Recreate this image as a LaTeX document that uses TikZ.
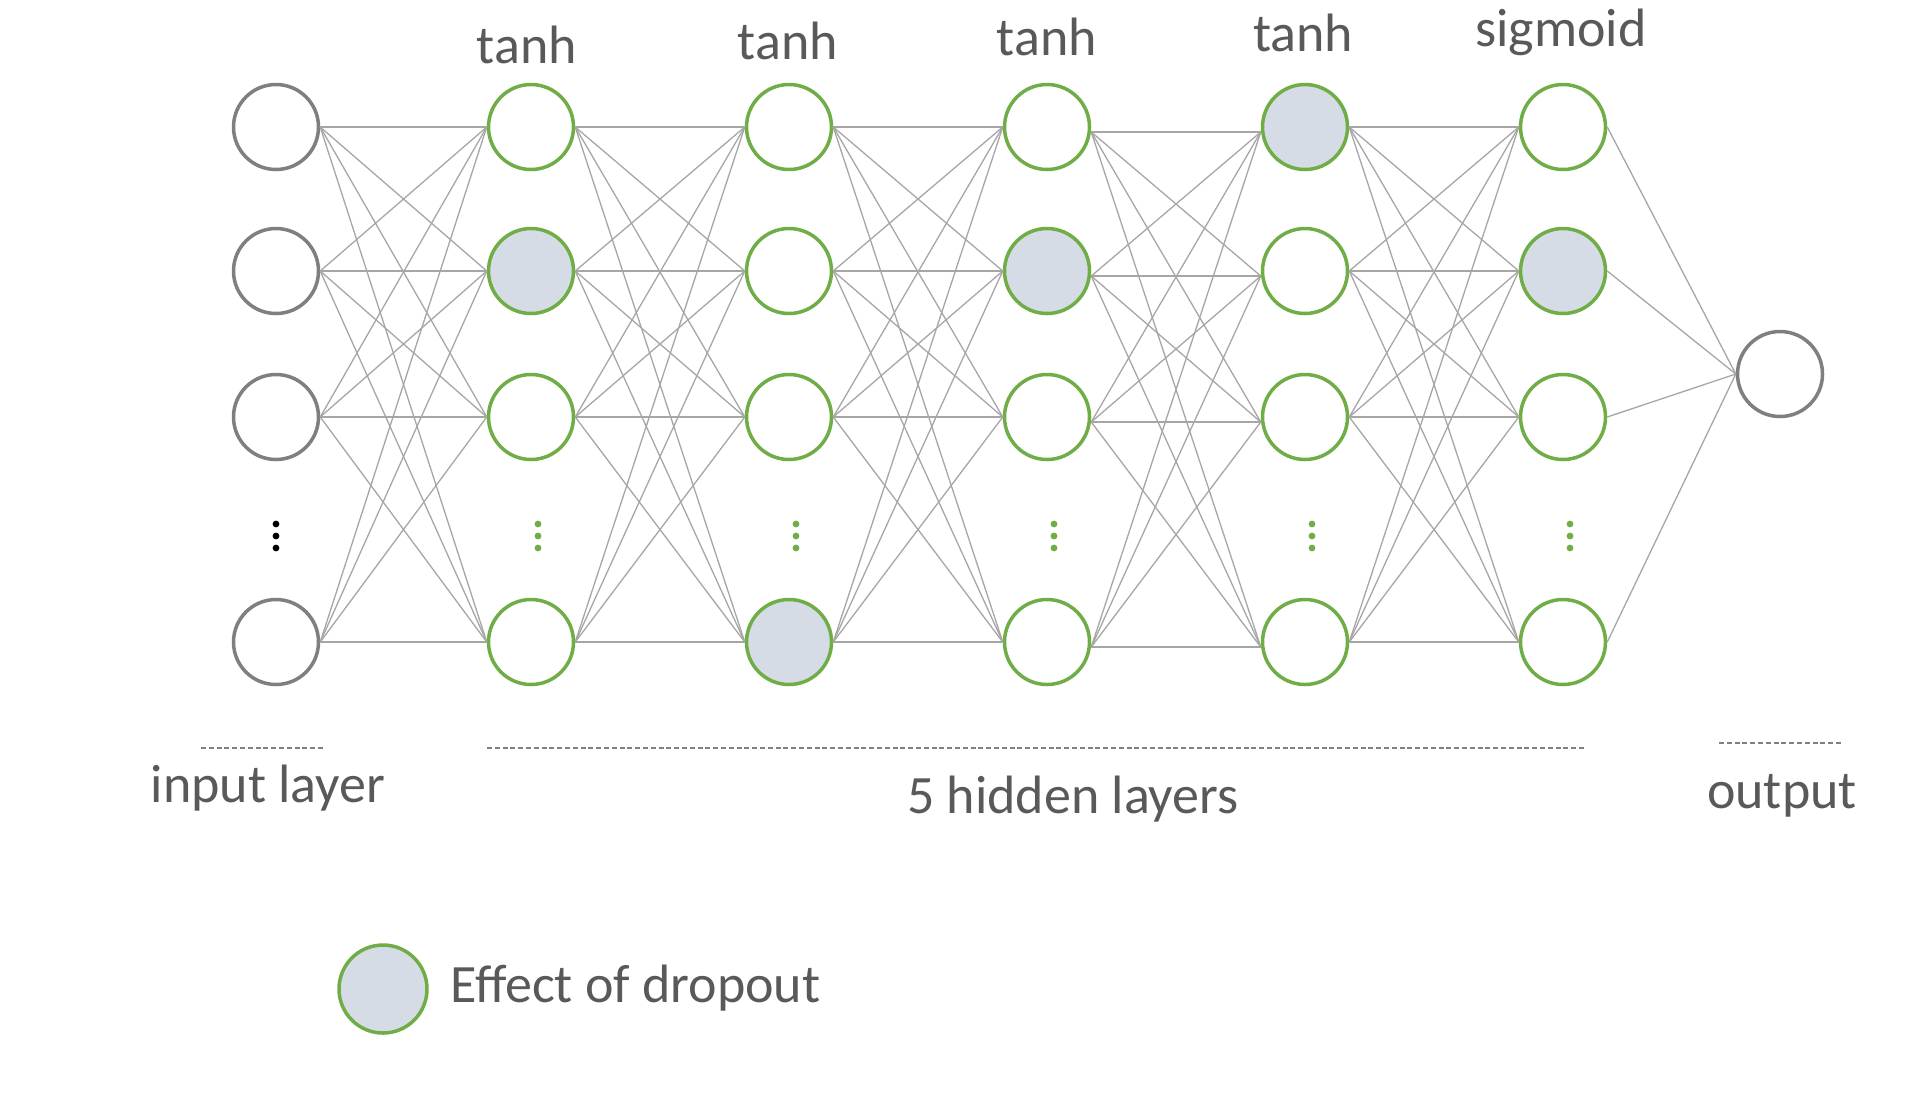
\documentclass[tikz,border=0pt]{standalone}
\usepackage{fontspec}
\setmainfont{Carlito}
\definecolor{nngreen}{HTML}{70AD47}
\definecolor{nngray}{HTML}{7F7F7F}
\definecolor{dropfill}{HTML}{D6DCE5}
\definecolor{edgegray}{HTML}{A6A6A6}
\definecolor{txtgray}{HTML}{595959}
\tikzset{
  neuron/.style={circle, minimum size=42.5pt, inner sep=0pt, line width=1.75pt},
  inneuron/.style={neuron, draw=nngray, fill=white},
  hidneuron/.style={neuron, draw=nngreen},
  edge/.style={draw=edgegray, line width=0.65pt},
  lbl/.style={text=txtgray, font=\fontsize{27pt}{30pt}\selectfont, anchor=base, inner sep=0pt},
  sepline/.style={draw=nngray, line width=0.8pt, dash pattern=on 2.5pt off 1.4pt},
}
\begin{document}
\begin{tikzpicture}[x=0.5pt, y=-0.5pt]
\useasboundingbox (0,0) rectangle (1930,1094);
% input layer
\foreach \r/\y in {1/127,2/271,3/417,4/642}
  \node[inneuron] (in-\r) at (276,\y) {};
% hidden layers
\foreach \c/\x/\d in {1/531/2, 2/789/4, 3/1047/2, 4/1305/1, 5/1563/2} {
  \foreach \r/\y in {1/127,2/271,3/417,4/642} {
    \ifnum\r=\d\relax \def\fc{dropfill}\else\def\fc{white}\fi
    \node[hidneuron, fill=\fc] (h\c-\r) at (\x,\y) {};
  }
}
% output
\node[inneuron] (out) at (1780,374) {};
% edges
\foreach \a in {1,...,4}
  \foreach \b in {1,...,4}
    \draw[edge] (in-\a.east) -- (h1-\b.west);
\foreach \c/\n in {1/2, 2/3, 4/5}
  \foreach \a in {1,...,4}
    \foreach \b in {1,...,4}
      \draw[edge] (h\c-\a.east) -- (h\n-\b.west);
\foreach \a in {1,...,4}
  \foreach \b in {1,...,4}
    \draw[edge] ([yshift=-2.5pt]h3-\a.east) -- ([yshift=-2.5pt]h4-\b.west);
\foreach \a in {1,...,4}
  \draw[edge] (h5-\a.east) -- (out.west);
% vertical dots
\foreach \y in {524,536,548}
  \fill[black] (276,\y) circle (1.7pt);
\foreach \x in {538,796,1054,1312,1570}
  \foreach \y in {524,536,548}
    \fill[nngreen] (\x,\y) circle (1.7pt);
% activation labels
\node[lbl] (t1) at (527,63) {tanh};
\node[lbl] (t2) at (788,59) {tanh};
\node[lbl] (t3) at (1047,55) {tanh};
\node[lbl] (t4) at (1303,51) {tanh};
\node[lbl] (t5) at (1561,46) {sigmoid};
% separators
\coordinate (s1a) at (201,748); \coordinate (s1b) at (324,748);
\coordinate (s2a) at (487,748); \coordinate (s2b) at (1586,748);
\coordinate (s3a) at (1719,743); \coordinate (s3b) at (1843,743);
\draw[sepline] (s1a) -- (s1b);
\draw[sepline] (s2a) -- (s2b);
\draw[sepline] (s3a) -- (s3b);
% layer labels
\node[lbl] (linput) at (268,802) {input layer};
\node[lbl] (lhidden) at (1073,813) {5 hidden layers};
\node[lbl] (loutput) at (1782,808) {output};
% legend
\node[hidneuron, fill=dropfill, minimum size=44pt] (leg) at (383,989) {};
\node[lbl, anchor=base west] (legtxt) at (450,1002) {Effect of dropout};
\end{tikzpicture}
\end{document}
